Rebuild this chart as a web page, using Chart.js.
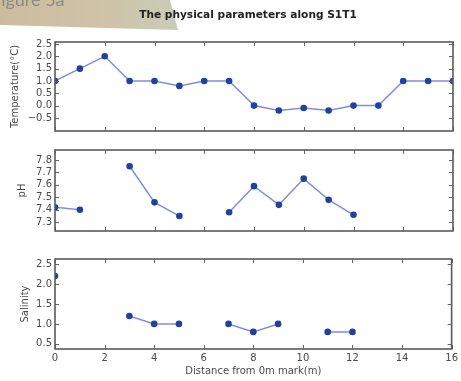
<!DOCTYPE html>
<html>
<head>
<meta charset="utf-8">
<script src="https://cdn.jsdelivr.net/npm/chart.js@4.4.1/dist/chart.umd.min.js"></script>
<style>
  body { margin: 0; background: #fff; }
  #wrap { position: relative; width: 461px; height: 381px; overflow: hidden; }
  .box { position: absolute; left: 0; width: 461px; }
</style>
</head>
<body>
<div id="wrap">
  <div class="box" style="top:0;height:140px"><canvas id="tempChart"></canvas></div>
  <div class="box" style="top:140px;height:100px"><canvas id="phChart"></canvas></div>
  <div class="box" style="top:240px;height:141px"><canvas id="salChart"></canvas></div>
</div>
<script>
// Distance along the transect (m)
const distance = [0, 1, 2, 3, 4, 5, 6, 7, 8, 9, 10, 11, 12, 13, 14, 15, 16];
const temperature = [1.0, 1.5, 2.0, 1.0, 1.0, 0.8, 1.0, 1.0, 0.0, -0.2, -0.1, -0.2, 0.0, 0.0, 1.0, 1.0, 1.0];
const ph = [7.42, 7.40, null, 7.75, 7.46, 7.35, null, 7.38, 7.59, 7.44, 7.65, 7.48, 7.36, null, null, null, null];
const salinity = [2.2, null, null, 1.2, 1.0, 1.0, null, 1.0, 0.8, 1.0, null, 0.8, 0.8, null, null, null, null];

const xTicks = [0, 2, 4, 6, 8, 10, 12, 14, 16];
const tempTicks = [-0.5, 0.0, 0.5, 1.0, 1.5, 2.0, 2.5];
const phTicks = [7.3, 7.4, 7.5, 7.6, 7.7, 7.8];
const salTicks = [0.5, 1.0, 1.5, 2.0, 2.5];

const textColor = '#4a4a4a';
const lineColor = '#7d8fdc';
const markerColor = '#22409f';

// matplotlib style box with inward ticks on all sides
const innerTicks = {
  id: 'innerTicks',
  afterDraw(chart) {
    const { ctx, chartArea: a, scales } = chart;
    ctx.save();
    ctx.strokeStyle = '#666';
    ctx.lineWidth = 1;
    ctx.beginPath();
    scales.x.ticks.forEach(t => {
      const px = Math.round(scales.x.getPixelForValue(t.value)) + 0.5;
      ctx.moveTo(px, a.top); ctx.lineTo(px, a.top + 4);
      ctx.moveTo(px, a.bottom); ctx.lineTo(px, a.bottom - 4);
    });
    scales.y.ticks.forEach(t => {
      const py = Math.round(scales.y.getPixelForValue(t.value)) + 0.5;
      ctx.moveTo(a.left, py); ctx.lineTo(a.left + 4, py);
      ctx.moveTo(a.right, py); ctx.lineTo(a.right - 4, py);
    });
    ctx.stroke();
    ctx.lineWidth = 1.6;
    ctx.strokeStyle = '#5a5a5a';
    ctx.strokeRect(a.left, a.top, a.right - a.left, a.bottom - a.top);
    ctx.restore();
  }
};

// photo corner: paper strip with the figure caption, plus the chart title
const header = {
  id: 'header',
  beforeDraw(chart) {
    const ctx = chart.ctx;
    ctx.save();
    const g = ctx.createLinearGradient(0, 0, 180, 0);
    g.addColorStop(0, '#cdbb9e');
    g.addColorStop(0.6, '#cfc3a8');
    g.addColorStop(1, '#c9ccb8');
    ctx.fillStyle = g;
    ctx.beginPath();
    ctx.moveTo(0, 0); ctx.lineTo(170, 0); ctx.lineTo(178, 30); ctx.lineTo(0, 25);
    ctx.closePath();
    ctx.fill();
    ctx.fillStyle = '#8a8a86';
    ctx.font = '18px Lato';
    ctx.textBaseline = 'alphabetic';
    ctx.fillText('Figure 5a', -9, 6);
    ctx.fillStyle = '#222';
    ctx.font = 'bold 10.6px "DejaVu Sans"';
    ctx.textAlign = 'center';
    ctx.textBaseline = 'middle';
    ctx.fillText('The physical parameters along S1T1', 248, 15);
    ctx.restore();
  }
};

function fmt(v) {
  return v.toFixed(1).replace('-', '\u2212');
}

function makeChart(id, values, yMin, yMax, yTicks, yTitle, titlePad, opts) {
  const points = distance.map((d, i) => ({ x: d, y: values[i] }));
  const plugins = [innerTicks];
  if (opts.header) plugins.push(header);
  return new Chart(document.getElementById(id), {
    type: 'line',
    data: {
      datasets: [{
        data: points,
        borderColor: lineColor,
        borderWidth: 1.5,
        pointBackgroundColor: markerColor,
        pointBorderColor: markerColor,
        pointRadius: 3.3,
        pointBorderWidth: 0,
        tension: 0,
        spanGaps: false,
      }],
    },
    options: {
      responsive: true,
      maintainAspectRatio: false,
      animation: false,
      events: [],
      layout: { padding: { top: opts.top, right: 8, left: 0, bottom: 0 } },
      plugins: { legend: { display: false }, tooltip: { enabled: false } },
      scales: {
        x: {
          type: 'linear',
          min: 0,
          max: 16,
          afterBuildTicks: s => { s.ticks = xTicks.map(v => ({ value: v })); },
          afterFit: s => { s.height = opts.xHeight; },
          grid: { display: false, drawTicks: false },
          border: { display: false },
          ticks: {
            display: opts.xLabels,
            padding: 3,
            color: textColor,
            font: { family: 'DejaVu Sans', size: 10 },
            maxRotation: 0,
          },
          title: {
            display: opts.xLabels,
            text: 'Distance from 0m mark(m)',
            color: textColor,
            font: { family: 'DejaVu Sans', size: 10 },
            padding: { top: 0, bottom: 4 },
          },
        },
        y: {
          min: yMin,
          max: yMax,
          afterBuildTicks: s => { s.ticks = yTicks.map(v => ({ value: v })); },
          afterFit: s => { s.width = 55; },
          grid: { display: false, drawTicks: false },
          border: { display: false },
          ticks: {
            padding: 3,
            color: textColor,
            font: { family: 'DejaVu Sans', size: 10 },
            callback: v => fmt(v),
          },
          title: {
            display: true,
            text: yTitle,
            color: textColor,
            font: { family: 'DejaVu Sans', size: 10 },
            padding: { top: titlePad, bottom: 0 },
          },
        },
      },
    },
    plugins: plugins,
  });
}

makeChart('tempChart', temperature, -1.03, 2.58, tempTicks, 'Temperature(\u00b0C)', 9,
  { top: 42, xHeight: 9, xLabels: false, header: true });
makeChart('phChart', ph, 7.23, 7.88, phTicks, 'pH', 16,
  { top: 10, xHeight: 1, xLabels: false });
makeChart('salChart', salinity, 0.37, 2.63, salTicks, 'Salinity', 19,
  { top: 19, xHeight: 32, xLabels: true });
</script>
</body>
</html>
